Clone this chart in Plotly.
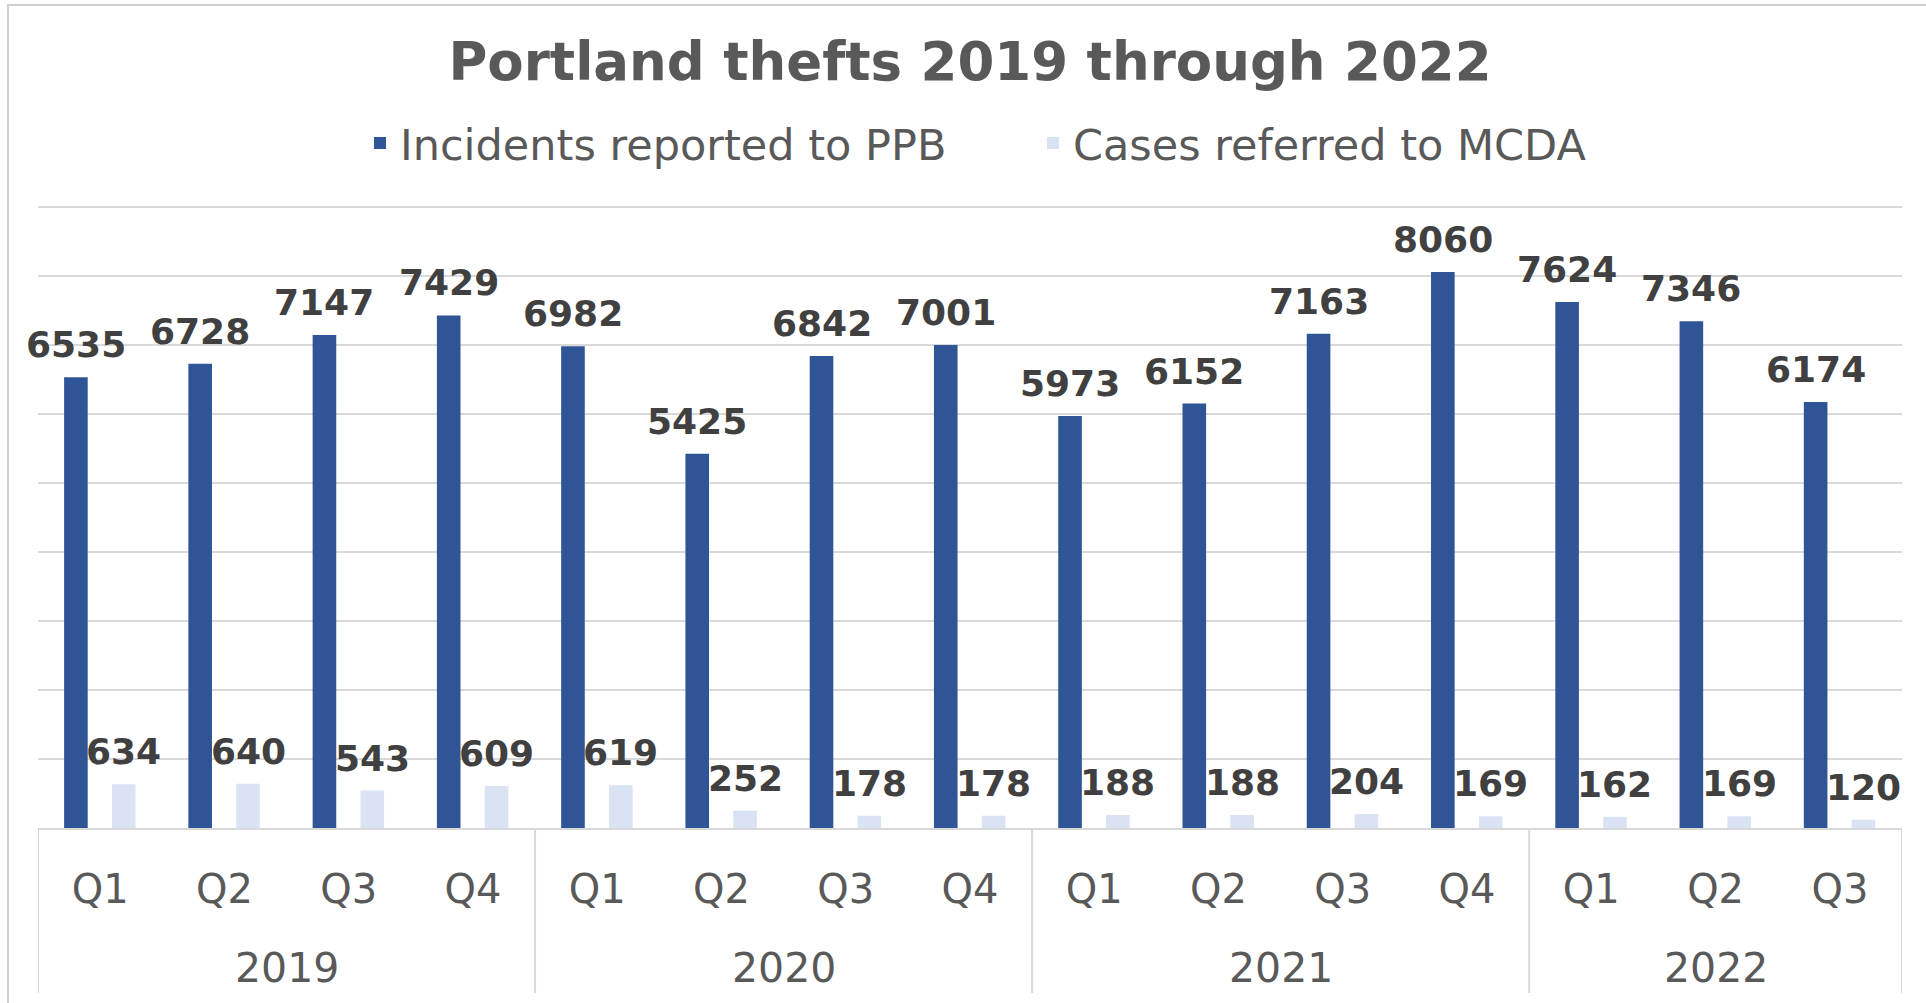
import plotly.graph_objects as go

years = ["2019"] * 4 + ["2020"] * 4 + ["2021"] * 4 + ["2022"] * 3
quarters = ["Q1", "Q2", "Q3", "Q4"] * 3 + ["Q1", "Q2", "Q3"]
incidents = [6535, 6728, 7147, 7429, 6982, 5425, 6842, 7001, 5973, 6152, 7163, 8060, 7624, 7346, 6174]
cases = [634, 640, 543, 609, 619, 252, 178, 178, 188, 188, 204, 169, 162, 169, 120]
series_names = ["Incidents reported to PPB", "Cases referred to MCDA"]

DARK = "#2F5597"
LIGHT = "#DAE3F3"
GRID = "#D9D9D9"
FONT = "DejaVu Sans, Verdana, sans-serif"

W, H = 1926, 1003
ML, MR, MT, MB = 38, 24, 205, 175
ph = H - MT - MB
pw = W - ML - MR

BAR_W = 0.19
OFFSETS = [-0.29, 0.095]

idx = list(range(len(quarters)))
series_values = [incidents, cases]
series_colors = [DARK, LIGHT]

fig = go.Figure()
annotations = []
for name, vals, col, off in zip(series_names, series_values, series_colors, OFFSETS):
    fig.add_trace(go.Bar(
        x=idx, y=vals, name=name,
        marker=dict(color=col, line=dict(width=0)),
        width=BAR_W, offset=off,
        customdata=[[y, q] for y, q in zip(years, quarters)],
        hovertemplate="%{customdata[0]} %{customdata[1]}: %{y}<extra>" + name + "</extra>",
    ))
    # data labels above each bar
    for i, v in zip(idx, vals):
        annotations.append(dict(
            text=f"<b>{v}</b>", x=i + off + BAR_W / 2, xref="x", y=v, yref="y",
            xanchor="center", yanchor="bottom", yshift=10, showarrow=False,
            font=dict(family=FONT, size=36, color="#404040"),
        ))

# year groups: centres for labels, boundaries for dividers
groups = []
for i, yv in enumerate(years):
    if not groups or groups[-1][0] != yv:
        groups.append([yv, i, i])
    else:
        groups[-1][2] = i

shapes = []
bottom_paper = -(993 - (H - MB)) / ph
for yv, a, b in groups:
    annotations.append(dict(
        text=yv, x=(a + b) / 2, xref="x", y=0, yref="paper",
        yanchor="middle", xanchor="center", showarrow=False,
        yshift=-(968 - (H - MB)),
        font=dict(family=FONT, size=41, color="#595959"),
    ))
bounds = sorted(set([g[1] - 0.5 for g in groups] + [g[2] + 0.5 for g in groups]))
for bx in bounds:
    shapes.append(dict(
        type="line", xref="x", yref="paper", x0=bx, x1=bx, y0=0, y1=bottom_paper,
        line=dict(color=GRID, width=2),
    ))

# chart-area border
shapes.append(dict(
    type="rect", xref="paper", yref="paper",
    x0=(8 - ML) / pw, x1=(W + 20 - ML) / pw,
    y0=-(MB + 20) / ph, y1=1 + (MT - 5) / ph,
    line=dict(color="#CFCFCF", width=2), fillcolor="rgba(0,0,0,0)",
    layer="below",
))

fig.update_layout(
    width=W, height=H,
    margin=dict(l=ML, r=MR, t=MT, b=MB, pad=0, autoexpand=False),
    paper_bgcolor="white", plot_bgcolor="white",
    font=dict(family=FONT, color="#595959"),
    barmode="group",
    title=dict(
        text="<b>Portland thefts 2019 through 2022</b>",
        font=dict(family=FONT, size=53, color="#595959"),
        x=(ML + pw / 2) / W, xanchor="center",
        y=1 - 61 / H, yanchor="middle", yref="container",
    ),
    legend=dict(
        orientation="h", xref="container", yref="container",
        x=(379 - 19) / W, xanchor="left",
        y=1 - 143 / H, yanchor="middle",
        font=dict(family=FONT, size=43, color="#595959"),
        itemwidth=30, entrywidth=628, entrywidthmode="pixels",
        bgcolor="rgba(0,0,0,0)",
    ),
    showlegend=True,
    xaxis=dict(
        tickmode="array", tickvals=idx, ticktext=quarters,
        range=[-0.5, len(quarters) - 0.5],
        showline=True, linecolor=GRID, linewidth=2,
        showgrid=False, zeroline=False, automargin=False,
        tickfont=dict(family=FONT, size=40, color="#595959"),
        ticks="", ticklabelstandoff=25,
    ),
    yaxis=dict(
        range=[0, 9030], tick0=0, dtick=1000,
        showgrid=True, gridcolor=GRID, gridwidth=2,
        showticklabels=False, zeroline=False, showline=False, automargin=False,
    ),
    annotations=annotations,
    shapes=shapes,
)

fig.write_html(
    "out.html",
    config={"displayModeBar": False},
    post_script="document.body.style.margin='0';",
)
